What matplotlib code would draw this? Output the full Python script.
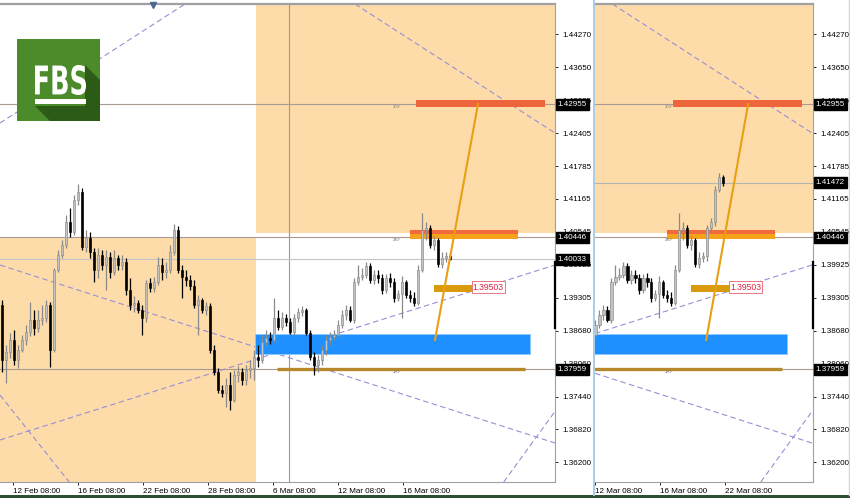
import matplotlib
matplotlib.use('Agg')
import numpy as np
import matplotlib.pyplot as plt
from matplotlib.patches import Rectangle, Polygon, PathPatch
from matplotlib.lines import Line2D
from matplotlib.textpath import TextPath
from matplotlib.font_manager import FontProperties
from matplotlib.transforms import Affine2D, blended_transform_factory

plt.rcParams['font.family'] = ['Liberation Sans', 'DejaVu Sans']

# ---------------- data: H4 candles (bar index = position) ----------------
opens = [1.39165, 1.38128, 1.38279, 1.38506, 1.38128, 1.38317, 1.38506, 1.38656, 1.38883, 1.38732,
         1.38883, 1.38920, 1.39165, 1.38317, 1.39825, 1.40108, 1.40296, 1.40730, 1.40542, 1.41145,
         1.41296, 1.40258, 1.40428, 1.40164, 1.39825, 1.40108, 1.39919, 1.40070, 1.39787, 1.40051,
         1.39919, 1.39976, 1.39448, 1.39165, 1.39203, 1.39071, 1.38920, 1.39580, 1.39485, 1.39599,
         1.39919, 1.39787, 1.39825, 1.40164, 1.40579, 1.39825, 1.39693, 1.39636, 1.39523, 1.39165,
         1.39260, 1.39071, 1.39146, 1.38317, 1.37902, 1.37563, 1.37506, 1.37657, 1.37375, 1.37846,
         1.37902, 1.37751, 1.37940, 1.37977, 1.38185, 1.38128, 1.38468, 1.38543, 1.38506, 1.38920,
         1.38751, 1.38920, 1.38845, 1.38656, 1.38920, 1.39033, 1.39071, 1.38637, 1.38185, 1.38034,
         1.38128, 1.38317, 1.38506, 1.38562, 1.38600, 1.38788, 1.38977, 1.39071, 1.38883, 1.39599,
         1.39693, 1.39731, 1.39900, 1.39636, 1.39731, 1.39674, 1.39448, 1.39674, 1.39599, 1.39297,
         1.39372, 1.39599, 1.39353, 1.39297, 1.39203, 1.39825, 1.40579, 1.40617, 1.40296, 1.40391,
         1.39938, 1.40051, 1.40089]
highs = [1.39260, 1.38411, 1.38637, 1.38694, 1.38411, 1.38600, 1.38788, 1.39222, 1.39071, 1.39071,
         1.39165, 1.39260, 1.39222, 1.39863, 1.40202, 1.40391, 1.40862, 1.40994, 1.41240, 1.41447,
         1.41372, 1.40579, 1.40542, 1.40240, 1.40240, 1.40202, 1.40202, 1.40164, 1.40202, 1.40108,
         1.40108, 1.40051, 1.39674, 1.39335, 1.39260, 1.39165, 1.39636, 1.39674, 1.39693, 1.40070,
         1.40051, 1.39976, 1.40296, 1.40692, 1.40655, 1.39919, 1.39825, 1.39731, 1.39636, 1.39353,
         1.39297, 1.39222, 1.39203, 1.38411, 1.37977, 1.37657, 1.37789, 1.37902, 1.37940, 1.38015,
         1.37977, 1.38034, 1.38128, 1.38317, 1.38411, 1.38600, 1.38694, 1.38656, 1.39297, 1.39071,
         1.39033, 1.38996, 1.38920, 1.38996, 1.39109, 1.39146, 1.39109, 1.38694, 1.38279, 1.38223,
         1.38411, 1.38600, 1.38656, 1.38694, 1.38883, 1.39071, 1.39165, 1.39146, 1.39674, 1.39919,
         1.39863, 1.39976, 1.39957, 1.39825, 1.39825, 1.39749, 1.39749, 1.39768, 1.39674, 1.39448,
         1.39712, 1.39636, 1.39448, 1.39410, 1.39919, 1.40900, 1.40730, 1.40674, 1.40466, 1.40428,
         1.40164, 1.40164, 1.40145]
lows = [1.37902, 1.37695, 1.38166, 1.38034, 1.37977, 1.38279, 1.38411, 1.38581, 1.38600, 1.38656,
        1.38788, 1.38845, 1.37996, 1.38279, 1.39787, 1.40051, 1.40240, 1.40447, 1.40485, 1.41051,
        1.40202, 1.40164, 1.40051, 1.39599, 1.39674, 1.39825, 1.39448, 1.39674, 1.39731, 1.39825,
        1.39825, 1.39353, 1.39071, 1.39033, 1.39014, 1.38600, 1.38845, 1.39410, 1.39410, 1.39542,
        1.39636, 1.39674, 1.39768, 1.40108, 1.39768, 1.39297, 1.39523, 1.39448, 1.39109, 1.38600,
        1.39014, 1.38977, 1.38260, 1.37846, 1.37506, 1.37431, 1.37243, 1.37186, 1.37337, 1.37714,
        1.37657, 1.37657, 1.37789, 1.37751, 1.37996, 1.38072, 1.38411, 1.38430, 1.38468, 1.38694,
        1.38694, 1.38769, 1.38619, 1.38600, 1.38845, 1.38958, 1.38600, 1.38128, 1.37846, 1.37902,
        1.38034, 1.38223, 1.38411, 1.38506, 1.38562, 1.38732, 1.38883, 1.38845, 1.38826, 1.39542,
        1.39636, 1.39674, 1.39580, 1.39561, 1.39580, 1.39372, 1.39391, 1.39504, 1.39222, 1.39241,
        1.38920, 1.39297, 1.39222, 1.39146, 1.39165, 1.39787, 1.40391, 1.40240, 1.40202, 1.39881,
        1.39863, 1.39976, 1.40014]
closes = [1.38128, 1.38279, 1.38506, 1.38128, 1.38317, 1.38506, 1.38656, 1.38883, 1.38732, 1.38883,
          1.38920, 1.39165, 1.38317, 1.39825, 1.40108, 1.40296, 1.40730, 1.40542, 1.41145, 1.41296,
          1.40258, 1.40428, 1.40164, 1.39825, 1.40108, 1.39919, 1.40070, 1.39787, 1.40051, 1.39919,
          1.39976, 1.39448, 1.39165, 1.39203, 1.39071, 1.38920, 1.39580, 1.39485, 1.39599, 1.39919,
          1.39787, 1.39825, 1.40164, 1.40579, 1.39825, 1.39693, 1.39636, 1.39523, 1.39165, 1.39260,
          1.39071, 1.39146, 1.38317, 1.37902, 1.37563, 1.37506, 1.37657, 1.37375, 1.37846, 1.37902,
          1.37751, 1.37940, 1.37977, 1.38185, 1.38128, 1.38468, 1.38543, 1.38506, 1.38920, 1.38751,
          1.38920, 1.38845, 1.38656, 1.38920, 1.39033, 1.39071, 1.38637, 1.38185, 1.38034, 1.38128,
          1.38317, 1.38506, 1.38562, 1.38600, 1.38788, 1.38977, 1.39071, 1.38883, 1.39599, 1.39693,
          1.39731, 1.39900, 1.39636, 1.39731, 1.39674, 1.39448, 1.39674, 1.39599, 1.39297, 1.39372,
          1.39599, 1.39353, 1.39297, 1.39203, 1.39825, 1.40579, 1.40617, 1.40296, 1.40391, 1.39938,
          1.40051, 1.40089, 1.40033]

# later bars, only in the right-hand window (start at bar 112)
late_open = [1.40089, 1.40617, 1.40730, 1.41334, 1.41579]
late_high = [1.40674, 1.40806, 1.41409, 1.41655, 1.41617]
late_low = [1.39995, 1.40542, 1.40655, 1.41296, 1.41409]
late_close = [1.40617, 1.40730, 1.41334, 1.41579, 1.41472]

price_ticks = [1.44270, 1.43650, 1.43025, 1.42405, 1.41785, 1.41165, 1.40545,
               1.39925, 1.39305, 1.38680, 1.38060, 1.37440, 1.36820, 1.36200]
date_pos = [2.75, 19, 35.25, 51.5, 67.75, 84, 100.25, 116.5]
date_lbl = ['12 Feb 08:00', '16 Feb 08:00', '22 Feb 08:00', '28 Feb 08:00',
            '6 Mar 08:00', '12 Mar 08:00', '16 Mar 08:00', '22 Mar 08:00']

levels = [1.42955, 1.40446, 1.37959]
bid_left = 1.40033
bid_right = 1.41472

# trend lines: (bar0, price0, bar1, price1)
trend_lines = [(-0.5, 1.42597, 45.75, 1.44841),
               (88.25, 1.44841, 138.25, 1.42409),
               (-0.5, 1.39920, 138.25, 1.36564),
               (-0.5, 1.36621, 138.25, 1.39920),
               (-0.5, 1.37469, 17.0, 1.35810),
               (125.25, 1.35810, 138.5, 1.37186)]

# zones: (bar0, bar1, price_lo, price_hi)
zone_low_left = (-0.5, 63.5, 1.30, 1.40446)
zone_high_right = (63.5, 145, 1.40530, 1.50)
blue_zone = (63.25, 132.0, 1.38242, 1.38619)
target_bar = (103.5, 135.75, 1.42899, 1.43031)
mid_bar_top = (102.0, 129.0, 1.40504, 1.40579)
mid_bar_low = (102.0, 129.0, 1.40410, 1.40504)
gold_bar = (108.0, 117.5, 1.39410, 1.39542)
gold_line = (68.75, 130.75, 1.37959)
marker_price = 1.39503
vline_bar = 71.75
arrow_left = (108.25, 1.38506, 119.0, 1.42955)
arrow_right = (111.75, 1.38506, 122.25, 1.42955)
deg_prices = [1.42899, 1.40391, 1.37902]
deg_text = ['300°', '240°', '180°']

YMIN, YMAX = 1.35829, 1.44841
W, H = 850, 498
SHADE = '#fddcaa'

fig = plt.figure(figsize=(W / 100, H / 100), dpi=100)
fig.patch.set_facecolor('white')


def px_axes(x0, y0, x1, y1):
    return fig.add_axes([x0 / W, 1 - y1 / H, (x1 - x0) / W, (y1 - y0) / H])


def candles(ax, idx, o, h, l, c):
    idx = np.asarray(idx, float)
    o, h, l, c = map(np.asarray, (o, h, l, c))
    up = c >= o
    wick = np.where(up, '#8a8a8a', 'black')
    ax.vlines(idx, l, h, colors=wick, lw=0.9, zorder=5)
    body = np.maximum(np.abs(c - o), 0.00004)
    face = np.where(up, '#c2c2c2', 'black')
    ax.bar(idx, body, bottom=np.minimum(o, c), width=0.6, color=face,
           edgecolor=wick, lw=0.45, zorder=6)


def rect(ax, z, **kw):
    b0, b1, p0, p1 = z
    ax.add_patch(Rectangle((b0, p0), b1 - b0, p1 - p0, **kw))


def tag(ax, price, txt):
    ax.annotate(txt, xy=(1.0, price), xycoords=('axes fraction', 'data'),
                xytext=(2, 0), textcoords='offset points', ha='left', va='center',
                fontsize=5.8, color='white', annotation_clip=False, zorder=10,
                bbox=dict(boxstyle='square,pad=0.25', fc='black', ec='black'))


def setup(ax, xlim, ticks, labels):
    ax.set_xlim(*xlim)
    ax.set_ylim(YMIN, YMAX)
    ax.set_facecolor('white')
    ax.yaxis.tick_right()
    ax.set_yticks(price_ticks)
    ax.set_yticklabels([f'{v:.5f}' for v in price_ticks])
    ax.set_xticks(ticks)
    ax.set_xticklabels(labels)
    for t in ax.get_xticklabels():
        t.set_ha('left')
    ax.tick_params(axis='y', direction='out', length=2.5, width=0.6, pad=3,
                   labelsize=5.8, colors='black')
    ax.tick_params(axis='x', direction='out', length=2.5, width=0.6, pad=1.5,
                   labelsize=5.8, colors='black')
    for s in ax.spines.values():
        s.set_color('#a0a0a0')
        s.set_linewidth(0.8)
    ax.spines['left'].set_visible(False)
    ax.spines['top'].set_linewidth(1.6)


def draw_objects(ax, arrow, deg_bar):
    rect(ax, zone_low_left, color=SHADE, lw=0, zorder=0)
    rect(ax, zone_high_right, color=SHADE, lw=0, zorder=0)
    for lv in levels:
        ax.axhline(lv, color='#a89c92', lw=0.8, zorder=1)
    for b0, p0, b1, p1 in trend_lines:
        ax.axline((b0, p0), (b1, p1), color='#9a8ed4', lw=0.8,
                  ls=(0, (5, 3)), zorder=2)
    rect(ax, blue_zone, fc='#1e90ff', ec='#8cc8ff', lw=0.6, zorder=3)
    rect(ax, target_bar, color='#ef653b', lw=0, zorder=3)
    rect(ax, mid_bar_top, color='#f2693c', lw=0, zorder=3)
    rect(ax, mid_bar_low, color='#f7a21b', lw=0, zorder=3)
    rect(ax, gold_bar, color='#d99a0e', lw=0, zorder=3)
    ax.plot([gold_line[0], gold_line[1]], [gold_line[2]] * 2,
            color='#b8892c', lw=2.4, zorder=3, solid_capstyle='butt')
    b0, p0, b1, p1 = arrow
    ax.plot([b0, b1], [p0, p1], color='#e8a012', lw=1.5, zorder=7)
    ax.text(gold_bar[1] + 0.2, marker_price, f'{marker_price:.5f}',
            color='#e02040', fontsize=6.2, ha='left', va='center', zorder=8,
            bbox=dict(boxstyle='square,pad=0.15', fc='white', ec='#e86070', lw=0.6))
    for pr, tx in zip(deg_prices, deg_text):
        ax.text(deg_bar, pr, tx, fontsize=3, color='#707070', ha='center',
                va='center', zorder=4)
    tr = blended_transform_factory(ax.transAxes, ax.transData)
    ax.plot([1, 1], [1.3873, 1.3997], transform=tr, color='black', lw=1.6,
            clip_on=False, zorder=9)


# ---------------- left window ----------------
ax_l = px_axes(0, 4, 555, 482)
setup(ax_l, (-0.5, 138.25), date_pos[:7], date_lbl[:7])
draw_objects(ax_l, arrow_left, 98.75)
ax_l.axvline(vline_bar, color='#b8907c', lw=0.8, zorder=1)
ax_l.axhline(bid_left, color='#c4c4c4', lw=0.8, zorder=1)
candles(ax_l, range(len(opens)), opens, highs, lows, closes)
for lv in levels + [bid_left]:
    tag(ax_l, lv, f'{lv:.5f}')
ax_l.plot([0.2757], [0.997], marker='v', ms=4, color='#4a6890',
          transform=ax_l.transAxes, clip_on=False, zorder=10)

# ---------------- right window ----------------
ax_r = px_axes(595, 4, 813, 482)
setup(ax_r, (83.9, 138.5), date_pos[5:], date_lbl[5:])
draw_objects(ax_r, arrow_right, 102.5)
ax_r.axhline(bid_right, color='#b4b4b4', lw=0.8, zorder=1)
start = 84
n_main = len(opens) - 1
idx_r = list(range(start, n_main)) + list(range(n_main, n_main + len(late_open)))
candles(ax_r, idx_r,
        opens[start:n_main] + late_open, highs[start:n_main] + late_high,
        lows[start:n_main] + late_low, closes[start:n_main] + late_close)
for lv in levels + [bid_right]:
    tag(ax_r, lv, f'{lv:.5f}')

# window separator and bottom strip
fig.add_artist(Line2D([593.5 / W] * 2, [3 / H, 1], transform=fig.transFigure,
                      color='#a8cce8', lw=1.4))
fig.add_artist(Line2D([849 / W] * 2, [3 / H, 1], transform=fig.transFigure,
                      color='#c8d8e8', lw=1.0))
fig.add_artist(Rectangle((0, 0), 1, 3 / H, transform=fig.transFigure,
                         color='#2f4f35', lw=0))

# ---------------- FBS logo ----------------
lg = px_axes(17, 39, 100, 121)
lg.set_xlim(0, 83)
lg.set_ylim(82, 0)
lg.axis('off')
lg.add_patch(Rectangle((0, 0), 83, 82, color='#4b8b2a', lw=0))
lg.add_patch(Polygon([(18, 67), (33, 82), (83, 82), (83, 41), (68, 26), (68, 67)],
                     closed=True, color='#2c5a17', lw=0))
tp = TextPath((0, 0), 'FBS', prop=FontProperties(family='DejaVu Sans', weight='bold'),
              size=1)
ext = tp.get_extents()
sx = 51 / ext.width
sy = 30 / ext.height
tf = Affine2D().translate(-ext.x0, -ext.y0).scale(sx, -sy).translate(18, 56)
lg.add_patch(PathPatch(tf.transform_path(tp), color='white', lw=0))
lg.add_patch(Rectangle((18, 60), 51, 5, color='white', lw=0))

fig.savefig('out.png', dpi=100)
